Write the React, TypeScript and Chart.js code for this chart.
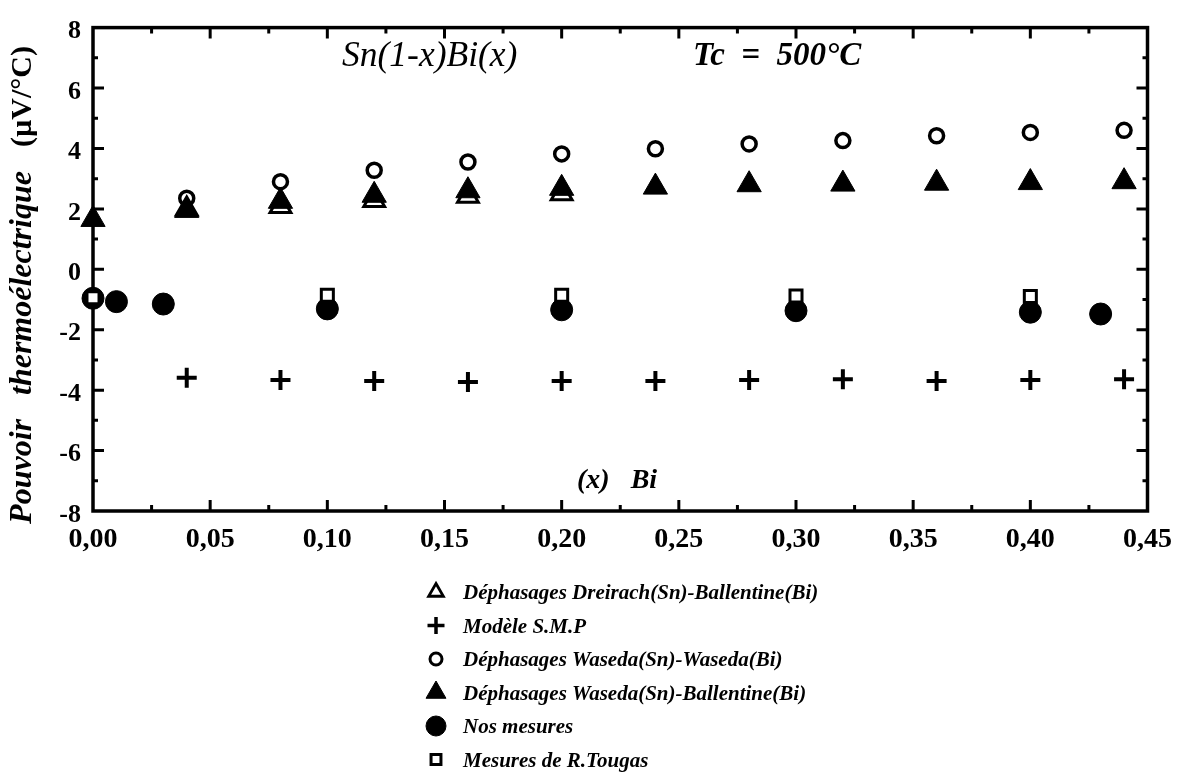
import React, { useEffect, useRef } from 'react';
import { Chart, registerables } from 'chart.js';
import { drawPoint } from 'chart.js/helpers';

Chart.register(...registerables);

const FONT = '"Liberation Serif", "Times New Roman", serif';

// ---- data ----
const seriesLabels = [
  'Déphasages Dreirach(Sn)-Ballentine(Bi)',
  'Modèle S.M.P',
  'Déphasages Waseda(Sn)-Waseda(Bi)',
  'Déphasages Waseda(Sn)-Ballentine(Bi)',
  'Nos mesures',
  'Mesures de R.Tougas',
];

const dreirachX = [0.04, 0.08, 0.12, 0.16, 0.2];
const dreirachY = [2.0, 2.08, 2.28, 2.42, 2.5];

const smpX = [0.04, 0.08, 0.12, 0.16, 0.2, 0.24, 0.28, 0.32, 0.36, 0.4, 0.44];
const smpY = [-3.59, -3.66, -3.7, -3.73, -3.7, -3.7, -3.66, -3.64, -3.7, -3.66, -3.64];

const wasedaWasedaX = [0.04, 0.08, 0.12, 0.16, 0.2, 0.24, 0.28, 0.32, 0.36, 0.4, 0.44];
const wasedaWasedaY = [2.35, 2.9, 3.28, 3.55, 3.82, 3.99, 4.15, 4.26, 4.42, 4.53, 4.6];

const wasedaBallX = [0, 0.04, 0.08, 0.12, 0.16, 0.2, 0.24, 0.28, 0.32, 0.36, 0.4, 0.44];
const wasedaBallY = [1.65, 1.95, 2.25, 2.45, 2.6, 2.68, 2.72, 2.8, 2.82, 2.85, 2.87, 2.9];

const nosX = [0, 0.01, 0.03, 0.1, 0.2, 0.3, 0.4, 0.43];
const nosY = [-0.96, -1.07, -1.15, -1.31, -1.34, -1.37, -1.42, -1.48];

const tougasX = [0, 0.1, 0.2, 0.3, 0.4];
const tougasY = [-0.94, -0.86, -0.86, -0.88, -0.9];

const xMin = 0;
const xMax = 0.45;
const xStep = 0.05;
const yMin = -8;
const yMax = 8;
const yStep = 2;

const titleText = 'Sn(1-x)Bi(x)';
const tempText = 'Tc  =  500°C';
const xAxisText = '(x)   Bi';
const yAxisWords = 'Pouvoir   thermoélectrique   ';
const yAxisUnit = '(µV/°C)';

const pts = (xs: number[], ys: number[]) => xs.map((x, i) => ({ x, y: ys[i] }));

// marker styles
const styles: any[] = [
  { ps: 'triangle', r: 12, bg: '#ffffff', bw: 3, order: 3, lr: 8.5, lbw: 2.8 },
  { ps: 'cross', r: 10, bg: '#000000', bw: 4, order: 5, lr: 8.5, lbw: 3.5 },
  { ps: 'circle', r: 7, bg: 'rgba(0,0,0,0)', bw: 3.5, order: 1, lr: 6, lbw: 3 },
  { ps: 'triangle', r: 14, bg: '#000000', bw: 1, order: 2, lr: 11.5, lbw: 1 },
  { ps: 'circle', r: 11, bg: '#000000', bw: 1, order: 4, lr: 10, lbw: 1 },
  { ps: 'rect', r: 8.5, bg: '#ffffff', bw: 3, order: 0, lr: 7, lbw: 3 },
];

const seriesData = [
  pts(dreirachX, dreirachY),
  pts(smpX, smpY),
  pts(wasedaWasedaX, wasedaWasedaY),
  pts(wasedaBallX, wasedaBallY),
  pts(nosX, nosY),
  pts(tougasX, tougasY),
];

const framePlugin = {
  id: 'frameTicks',
  beforeDatasetsDraw(chart: any) {
    const { ctx, chartArea: a, scales } = chart;
    const xs = scales.x;
    const ys = scales.y;
    ctx.save();
    ctx.strokeStyle = '#000';
    ctx.lineWidth = 3;
    ctx.beginPath();
    for (let v = yMin + 1; v < yMax; v++) {
      const py = ys.getPixelForValue(v);
      const len = v % 2 === 0 ? 11 : 5;
      ctx.moveTo(a.left, py);
      ctx.lineTo(a.left + len, py);
      ctx.moveTo(a.right, py);
      ctx.lineTo(a.right - len, py);
    }
    for (let i = 1; i < 18; i++) {
      const px = xs.getPixelForValue(i * 0.025);
      const len = i % 2 === 0 ? 11 : 6;
      ctx.moveTo(px, a.bottom);
      ctx.lineTo(px, a.bottom - len);
      ctx.moveTo(px, a.top);
      ctx.lineTo(px, a.top + len);
    }
    ctx.stroke();
    ctx.lineWidth = 3.5;
    ctx.strokeRect(a.left, a.top, a.right - a.left, a.bottom - a.top);
    ctx.restore();
  },
  afterDraw(chart: any) {
    const { ctx } = chart;
    ctx.save();
    ctx.fillStyle = '#000';
    ctx.textAlign = 'left';
    ctx.textBaseline = 'alphabetic';
    ctx.font = `italic 35.5px ${FONT}`;
    ctx.fillText(titleText, 342, 66);
    ctx.font = `italic bold 33px ${FONT}`;
    ctx.fillText(tempText, 693, 65);
    ctx.font = `italic bold 28px ${FONT}`;
    ctx.fillText(xAxisText, 577, 488);

    // y axis title (rotated)
    ctx.save();
    ctx.translate(23, 285);
    ctx.rotate(-Math.PI / 2);
    ctx.textBaseline = 'middle';
    const f1 = `italic bold 32px ${FONT}`;
    const f2 = `bold 30px ${FONT}`;
    ctx.font = f1;
    const w1 = ctx.measureText(yAxisWords).width;
    ctx.font = f2;
    const w2 = ctx.measureText(yAxisUnit).width;
    const start = -(w1 + w2) / 2;
    ctx.font = f1;
    ctx.fillText(yAxisWords, start, 0);
    ctx.font = f2;
    ctx.fillText(yAxisUnit, start + w1, 0);
    ctx.restore();

    // legend
    const symX = 436;
    const textX = 463;
    const base0 = 599;
    const step = 33.5;
    chart.data.datasets.forEach((ds: any, i: number) => {
      const st = styles[i];
      const by = base0 + i * step;
      ctx.save();
      ctx.fillStyle = st.bg === 'rgba(0,0,0,0)' ? '#ffffff' : st.bg;
      ctx.strokeStyle = '#000';
      ctx.lineWidth = st.lbw;
      drawPoint(ctx, { pointStyle: st.ps, radius: st.lr, borderWidth: st.lbw, rotation: 0 } as any, symX, by - 7);
      ctx.restore();
      ctx.font = `italic bold 21px ${FONT}`;
      ctx.fillStyle = '#000';
      ctx.textBaseline = 'alphabetic';
      ctx.fillText(ds.label, textX, by);
    });
    ctx.restore();
  },
};

export default function App() {
  const ref = useRef<HTMLCanvasElement | null>(null);

  useEffect(() => {
    if (!ref.current) return;
    Chart.defaults.font.family = FONT;
    Chart.defaults.color = '#000';
    const chart = new Chart(ref.current, {
      type: 'scatter',
      data: {
        datasets: seriesData.map((d, i) => ({
          label: seriesLabels[i],
          data: d,
          showLine: false,
          pointStyle: styles[i].ps,
          pointRadius: styles[i].r,
          pointHoverRadius: styles[i].r,
          backgroundColor: styles[i].bg,
          borderColor: '#000000',
          pointBorderWidth: styles[i].bw,
          borderWidth: styles[i].bw,
          order: styles[i].order,
          clip: false as any,
        })),
      },
      options: {
        animation: false,
        responsive: false,
        devicePixelRatio: 1,
        layout: { padding: { top: 18, right: 34, left: 0, bottom: 0 } },
        plugins: {
          legend: { display: false },
          tooltip: { enabled: false },
        },
        scales: {
          x: {
            type: 'linear',
            position: 'bottom',
            min: xMin,
            max: xMax,
            grid: { display: false, drawTicks: false },
            border: { display: false },
            ticks: {
              stepSize: xStep,
              padding: 12,
              maxRotation: 0,
              autoSkip: false,
              color: '#000',
              font: { size: 28, weight: 'bold', family: FONT },
              callback: (v: any) => Number(v).toFixed(2).replace('.', ','),
            },
            afterFit: (s: any) => {
              s.height = 263;
            },
          },
          y: {
            type: 'linear',
            position: 'left',
            min: yMin,
            max: yMax,
            grid: { display: false, drawTicks: false },
            border: { display: false },
            ticks: {
              stepSize: yStep,
              padding: 12,
              labelOffset: 4,
              color: '#000',
              font: { size: 26, weight: 'bold', family: FONT },
              callback: (v: any) => String(v),
            },
            afterFit: (s: any) => {
              s.width = 93;
            },
          },
        },
      },
      plugins: [framePlugin],
    } as any);
    return () => chart.destroy();
  }, []);

  return (
    <div style={{ position: 'absolute', left: 0, top: 0, width: 1184, height: 774, background: '#fff' }}>
      <canvas ref={ref} width={1184} height={774} style={{ display: 'block', width: 1184, height: 774 }} />
    </div>
  );
}
